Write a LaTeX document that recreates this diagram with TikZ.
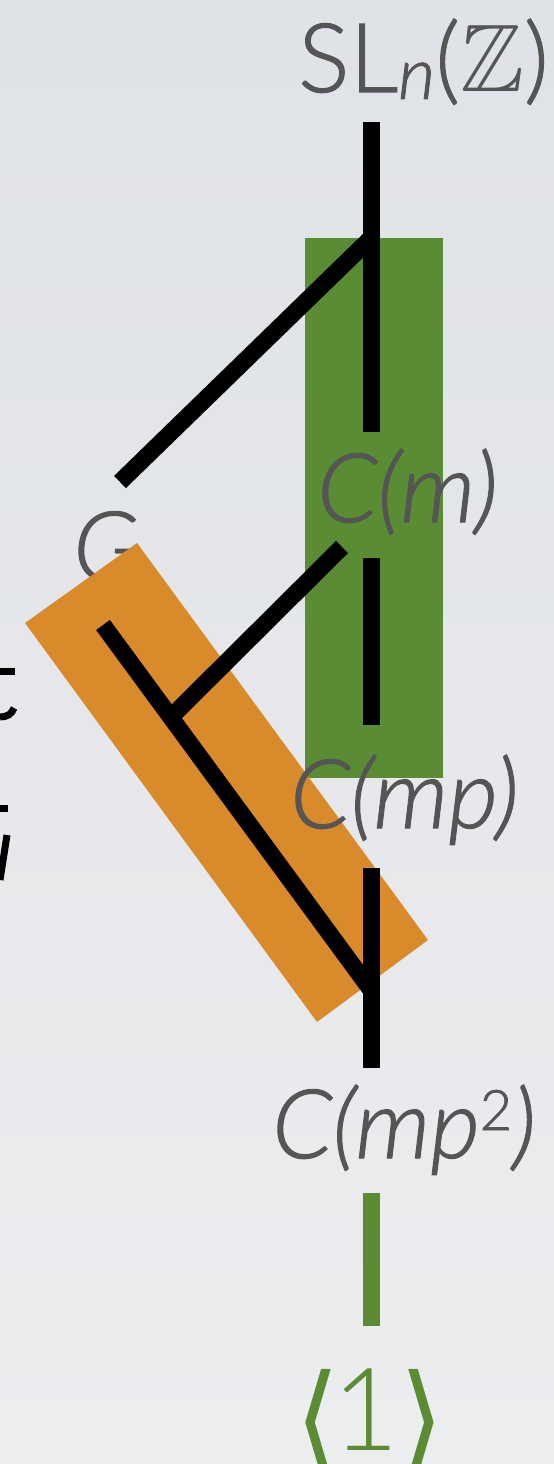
\documentclass[tikz,border=0pt]{standalone}
\usepackage{amssymb}
\usepackage{fontspec}
\setmainfont{Lato}[UprightFont=* Light, ItalicFont=* Light Italic]
\newfontfamily\djv{DejaVu Sans}
\definecolor{lblc}{HTML}{555555}
\definecolor{grn}{HTML}{5A8C33}
\definecolor{org}{HTML}{D98A2B}
\definecolor{bgtop}{HTML}{DFE2E6}
\definecolor{bgbot}{HTML}{ECEDEF}
\begin{document}
\begin{tikzpicture}[x=1pt,y=-1pt,
  lbl/.style={text=lblc, font=\fontsize{96}{100}\selectfont\addfontfeature{FakeBold=1.2}, inner sep=0pt, anchor=base west},
  edge/.style={line width=17pt, black},
  gedge/.style={line width=17pt, grn},
  frag/.style={line width=7pt, black}]
\useasboundingbox (0,0) rectangle (554,1464);
\shade[top color=bgtop, bottom color=bgbot] (0,0) rectangle (554,1464);
% clipped fragments of text at the left edge
\fill[black] (0,668) rectangle (15,675);
\draw[frag] (0,717) .. controls (7,717) and (12,714) .. (14,708);
\fill[black] (0,805) rectangle (8,812);
\draw[frag] (7,835) -- (0,880);
% labels and boxes
\node[lbl] (G) at (73,580) {\itshape G};
\fill[grn] (305,238) rectangle (443,778);
\fill[org] (137,543) -- (428,940) -- (317,1022) -- (25,623) -- cycle;
\node[lbl] (SL) at (298,92) {SL\raisebox{-7pt}{\fontsize{72}{72}\selectfont\itshape n}($\mathbb{Z}$)};
\node[lbl] (Cm) at (317,522) {\itshape C(m)};
\node[lbl] (Cmp) at (290,828) {\itshape C(mp)};
\node[lbl] (Cmp2) at (272,1158) {\itshape C(mp\raisebox{28pt}{\fontsize{56}{56}\selectfont\upshape 2})};
\node[lbl, text=grn, font=\fontsize{115}{120}\selectfont] (one) at (295,1450)
  {\raisebox{-10pt}{\djv\fontsize{100}{100}\selectfont\scalebox{1.15}[1.2]{⟨}}\hspace{-8pt}1\hspace{1pt}\raisebox{-10pt}{\djv\fontsize{100}{100}\selectfont\scalebox{1.15}[1.2]{⟩}}};
% connector end points
\coordinate (a1) at (371,122);
\coordinate (a2) at (371,432);
\coordinate (j1) at (371,238);
\coordinate (g1) at (120,482);
\coordinate (b1) at (371,558);
\coordinate (b2) at (371,725);
\coordinate (h1) at (342,547);
\coordinate (h2) at (170,718);
\coordinate (k1) at (103,625);
\coordinate (k2) at (371,990);
\coordinate (c1) at (371,868);
\coordinate (c2) at (371,1068);
\coordinate (e1) at (371,1193);
\coordinate (e2) at (371,1326);
\draw[edge] (a1) -- (a2);
\draw[edge] (j1) -- (g1);
\draw[edge] (b1) -- (b2);
\draw[edge] (h1) -- (h2);
\draw[edge] (k1) -- (k2);
\draw[edge] (c1) -- (c2);
\draw[gedge] (e1) -- (e2);
\end{tikzpicture}
\end{document}
